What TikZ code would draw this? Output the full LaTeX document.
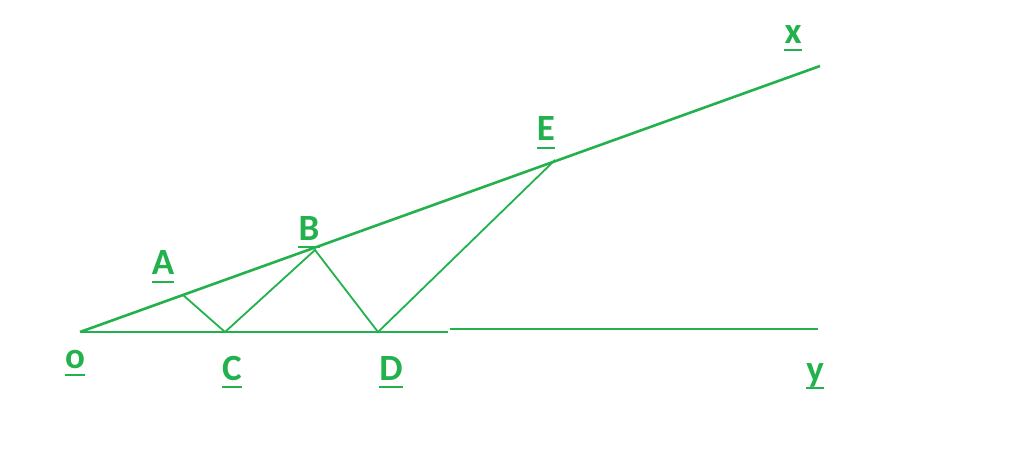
\documentclass[tikz,border=0pt]{standalone}
\usepackage{fontspec}
\setmainfont{Carlito}
\definecolor{g}{HTML}{22B14C}
\begin{document}
\begin{tikzpicture}[x=1pt,y=-1pt,
  mainline/.style={draw=g, line width=2.6pt},
  thinline/.style={draw=g, line width=1.8pt},
  lbl/.style={text=g, font=\fontsize{37}{42}\selectfont\bfseries, inner sep=0pt, anchor=base},
  ulbar/.style={draw=g, line width=2.8pt}]
\useasboundingbox (0,0) rectangle (1024,469);
% points
\coordinate (O) at (80,332);
\coordinate (A) at (183,295);
\coordinate (B) at (315,250);
\coordinate (E) at (555,160);
\coordinate (X) at (820,66);
\coordinate (C) at (225,332);
\coordinate (D) at (378,332);
\coordinate (M1) at (448,332);
\coordinate (M2) at (450,329);
\coordinate (Y) at (818,329);
% lines
\draw[mainline] (O) -- (X);
\draw[mainline] (O) -- (M1);
\draw[mainline] (M2) -- (Y);
\draw[thinline] (A) -- (C) -- (B) -- (D) -- (E);
% labels
\foreach \n/\t/\px/\py/\uy in {lo/o/75/368/375, lA/A/163/274/282, lB/B/309/240/247, lC/C/232/380/387, lD/D/391/380/387, lE/E/546/140/148, lx/x/793/43/50, ly/y/815/381/388}{
  \node[lbl] (\n) at (\px,\py) {\t};
  \draw[ulbar] (\n.west |- 0,\uy) -- (\n.east |- 0,\uy);
}
\end{tikzpicture}
\end{document}
